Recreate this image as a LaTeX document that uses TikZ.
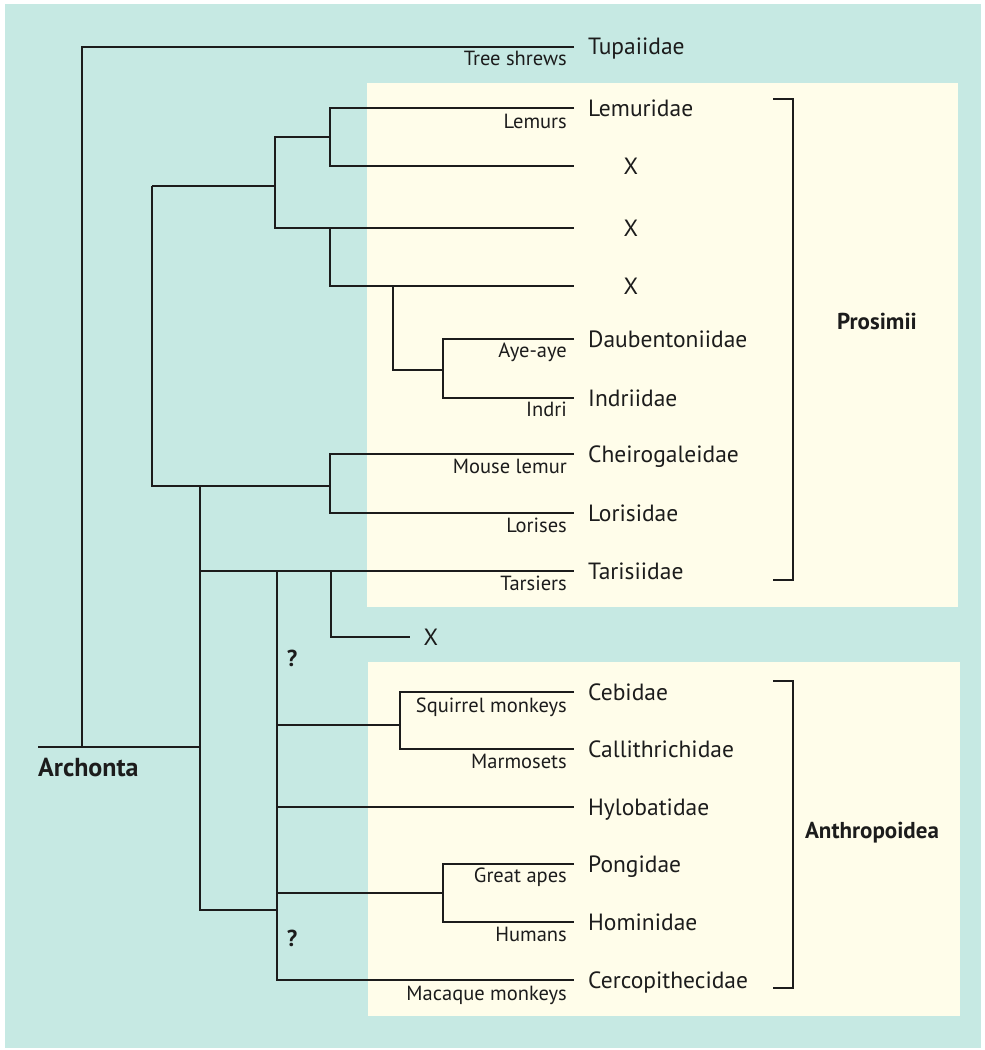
\documentclass[tikz,border=0pt]{standalone}
\usepackage{fontspec}
\setmainfont{PT Sans}
\usetikzlibrary{positioning}
\definecolor{pageteal}{RGB}{198,233,227}
\definecolor{panel}{RGB}{255,253,234}
\definecolor{ink}{RGB}{28,28,28}

\begin{document}
\begin{tikzpicture}[x=1pt,y=-1pt,
	branch/.style={line width=2.2pt,draw=ink},
	taxon/.style={anchor=base west,inner sep=0pt,text=ink,font=\fontsize{23.5}{26}\selectfont},
	common/.style={anchor=base east,inner sep=0pt,text=ink,font=\fontsize{20.5}{23}\selectfont},
	lost/.style={anchor=center,inner sep=0pt,text=ink,font=\fontsize{23.5}{26}\selectfont},
	group/.style={inner sep=0pt,text=ink,font=\bfseries\fontsize{23}{26}\selectfont}]
	% page and panels
	\fill[white] (0,0) rectangle (985,1050);
	\fill[pageteal] (5,4) rectangle (981,1048);
	\fill[panel] (367,83) rectangle (958,607);
	\fill[panel] (368,662) rectangle (960,1016);
	\useasboundingbox (0,0) rectangle (985,1050);

	% leaf ends
	\coordinate (tup) at (574,47);
	\coordinate (lem) at (574,108);
	\coordinate (xa) at (574,166);
	\coordinate (xb) at (574,228);
	\coordinate (xc) at (574,286);
	\coordinate (dau) at (574,339);
	\coordinate (ind) at (574,398);
	\coordinate (che) at (574,454);
	\coordinate (lor) at (574,513);
	\coordinate (tar) at (574,571);
	\coordinate (xd) at (410,637);
	\coordinate (ceb) at (574,692);
	\coordinate (cal) at (574,749);
	\coordinate (hyl) at (574,807);
	\coordinate (pon) at (574,864);
	\coordinate (hom) at (574,922);
	\coordinate (cer) at (574,980);

	% junctions
	\coordinate (root) at (38,747);
	\coordinate (shrewJ) at (82,747);
	\coordinate (primJ) at (200,747);
	\coordinate (lemJ) at (330,137);
	\coordinate (lemB) at (275,137);
	\coordinate (upperJ) at (275,186);
	\coordinate (strepT) at (152,186);
	\coordinate (strepB) at (152,486);
	\coordinate (midJ) at (330,228);
	\coordinate (ayeJ) at (393,286);
	\coordinate (ayeB) at (443,370);
	\coordinate (lorJ) at (330,486);
	\coordinate (haploT) at (200,486);
	\coordinate (haploB) at (200,910);
	\coordinate (tarJ) at (200,571);
	\coordinate (xdJ) at (331,571);
	\coordinate (anthT) at (277,571);
	\coordinate (anthQ) at (277,910);
	\coordinate (anthB) at (277,980);
	\coordinate (nwJ) at (277,725);
	\coordinate (cebJ) at (400,725);
	\coordinate (hylJ) at (277,807);
	\coordinate (oldJ) at (277,893);
	\coordinate (apeJ) at (443,893);
	\coordinate (prosT) at (793,99);
	\coordinate (prosB) at (793,580);
	\coordinate (anthroT) at (793,681);
	\coordinate (anthroB) at (793,988);

	% branches
	\draw[branch] (root) -- (primJ);
	\draw[branch] (tup) -| (shrewJ);
	\draw[branch] (lem) -| (lemJ) |- (xa);
	\draw[branch] (lemJ) -- (lemB) |- (xb);
	\draw[branch] (strepT) -- (upperJ);
	\draw[branch] (midJ) |- (xc);
	\draw[branch] (ayeJ) |- (ayeB);
	\draw[branch] (dau) -| (ayeB) |- (ind);
	\draw[branch] (strepT) -- (strepB) -- (lorJ);
	\draw[branch] (che) -| (lorJ) |- (lor);
	\draw[branch] (haploT) -- (haploB) -- (anthQ);
	\draw[branch] (tarJ) -- (tar);
	\draw[branch] (xdJ) |- (xd);
	\draw[branch] (anthT) -- (anthB) -- (cer);
	\draw[branch] (ceb) -| (cebJ) |- (cal);
	\draw[branch] (nwJ) -- (cebJ);
	\draw[branch] (hylJ) -- (hyl);
	\draw[branch] (pon) -| (apeJ) |- (hom);
	\draw[branch] (oldJ) -- (apeJ);
	\draw[branch] ([xshift=-20pt]prosT) -- (prosT) -- (prosB) -- ([xshift=-20pt]prosB);
	\draw[branch] ([xshift=-20pt]anthroT) -- (anthroT) -- (anthroB) -- ([xshift=-20pt]anthroB);

	% family names
	\node[taxon] (tupN) at (588,54) {Tupaiidae};
	\node[taxon] (lemN) at (588,116) {Lemuridae};
	\node[lost] (xaN) at (631,166) {X};
	\node[lost] (xbN) at (631,228) {X};
	\node[lost] (xcN) at (631,286) {X};
	\node[taxon] (dauN) at (588,347) {Daubentoniidae};
	\node[taxon] (indN) at (588,406) {Indriidae};
	\node[taxon] (cheN) at (588,462) {Cheirogaleidae};
	\node[taxon] (lorN) at (588,521) {Lorisidae};
	\node[taxon] (tarN) at (588,579) {Tarisiidae};
	\node[lost] (xdN) at (431,637) {X};
	\node[taxon] (cebN) at (588,700) {Cebidae};
	\node[taxon] (calN) at (588,757) {Callithrichidae};
	\node[taxon] (hylN) at (588,815) {Hylobatidae};
	\node[taxon] (ponN) at (588,872) {Pongidae};
	\node[taxon] (homN) at (588,930) {Hominidae};
	\node[taxon] (cerN) at (588,988) {Cercopithecidae};

	% common names
	\node[common] (tupC) at (567,65) {Tree shrews};
	\node[common] (lemC) at (567,128) {Lemurs};
	\node[common] (dauC) at (567,357) {Aye-aye};
	\node[common] (indC) at (567,416) {Indri};
	\node[common] (cheC) at (567,473) {Mouse lemur};
	\node[common] (lorC) at (567,532) {Lorises};
	\node[common] (tarC) at (567,590) {Tarsiers};
	\node[common] (cebC) at (567,712) {Squirrel monkeys};
	\node[common] (calC) at (567,768) {Marmosets};
	\node[common] (ponC) at (567,882) {Great apes};
	\node[common] (homC) at (567,941) {Humans};
	\node[common] (cerC) at (567,1000) {Macaque monkeys};

	% groups
	\node[group] (prosN) at (877,321) {Prosimii};
	\node[group] (anthroN) at (872,833) {Anthropoidea};
	\node[group,anchor=base west,font=\bfseries\fontsize{26}{29}\selectfont] (archN) at (38,776) {Archonta};
	\node[group] (qa) at (292,658) {?};
	\node[group] (qb) at (292,938) {?};
\end{tikzpicture}
\end{document}
